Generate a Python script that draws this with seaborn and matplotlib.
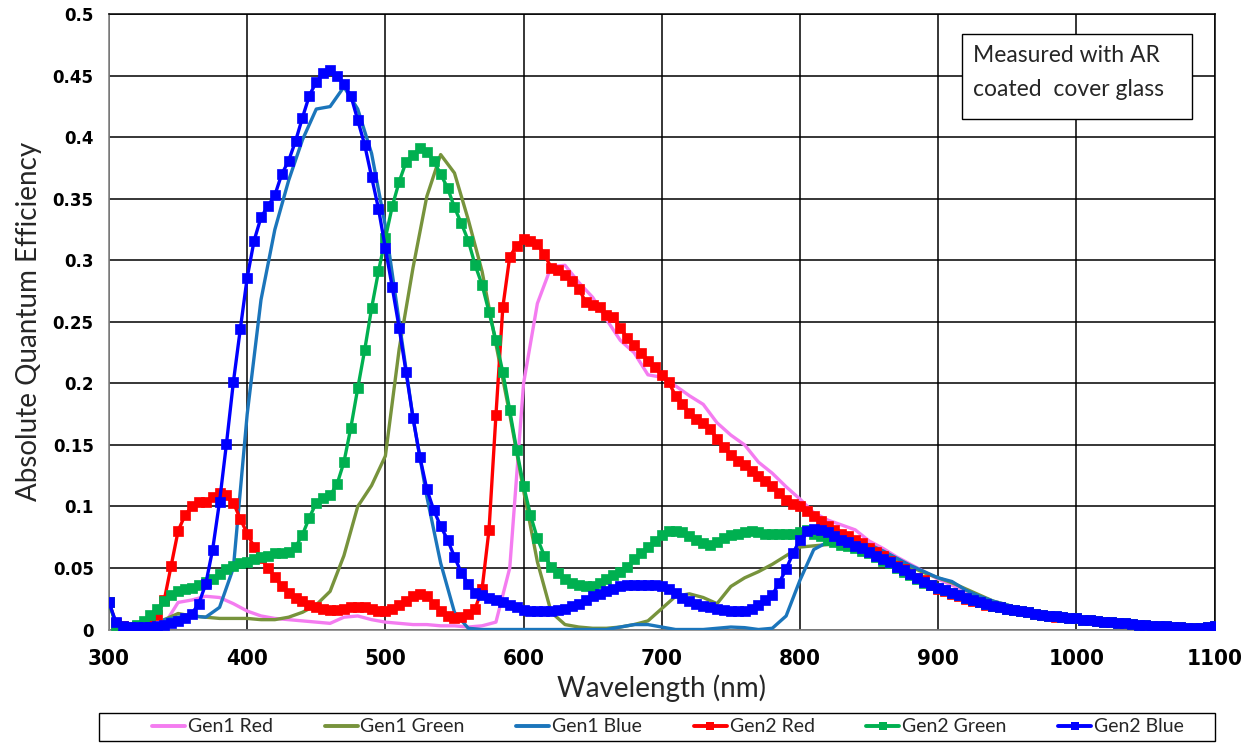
import numpy as np
import pandas as pd
import matplotlib
matplotlib.use("Agg")
import matplotlib.pyplot as plt
from matplotlib.patches import Rectangle
from matplotlib.lines import Line2D
import seaborn as sns

# ---------------- data ----------------
gen2_wl = list(range(300, 1101, 5))
gen1_wl = list(range(340, 1101, 10))

gen2_blue = [
    0.022, 0.006, 0.003, 0.002, 0.002, 0.002, 0.002, 0.003, 0.004, 0.005,
    0.007, 0.009, 0.013, 0.021, 0.037, 0.065, 0.104, 0.151, 0.201, 0.244,
    0.286, 0.316, 0.335, 0.344, 0.353, 0.370, 0.381, 0.397, 0.416, 0.434,
    0.445, 0.452, 0.455, 0.450, 0.443, 0.434, 0.414, 0.394, 0.368, 0.342,
    0.310, 0.278, 0.245, 0.209, 0.172, 0.140, 0.114, 0.097, 0.084, 0.073,
    0.059, 0.046, 0.037, 0.030, 0.028, 0.026, 0.024, 0.022, 0.020, 0.018,
    0.016, 0.015, 0.015, 0.015, 0.015, 0.016, 0.017, 0.019, 0.021, 0.024,
    0.027, 0.029, 0.031, 0.033, 0.035, 0.036, 0.036, 0.036, 0.036, 0.036,
    0.035, 0.033, 0.030, 0.026, 0.023, 0.021, 0.019, 0.018, 0.017, 0.016,
    0.015, 0.015, 0.015, 0.017, 0.020, 0.024, 0.028, 0.038, 0.049, 0.062,
    0.073, 0.080, 0.082, 0.081, 0.079, 0.076, 0.073, 0.071, 0.068, 0.066,
    0.063, 0.060, 0.057, 0.055, 0.051, 0.048, 0.045, 0.042, 0.039, 0.036,
    0.034, 0.032, 0.030, 0.028, 0.026, 0.024, 0.022, 0.021, 0.019, 0.018,
    0.017, 0.016, 0.015, 0.014, 0.013, 0.012, 0.011, 0.011, 0.010, 0.0095,
    0.009, 0.008, 0.0075, 0.007, 0.0065, 0.006, 0.0055, 0.005, 0.0045, 0.004,
    0.0035, 0.003, 0.0028, 0.0025, 0.002, 0.0018, 0.0015, 0.0012, 0.0015, 0.002,
    0.003,
]

gen2_red = [
    0.022, 0.005, 0.003, 0.002, 0.003, 0.004, 0.006, 0.012, 0.024, 0.052,
    0.080, 0.093, 0.100, 0.104, 0.104, 0.108, 0.111, 0.109, 0.103, 0.090,
    0.078, 0.067, 0.058, 0.050, 0.043, 0.035, 0.030, 0.026, 0.023, 0.020,
    0.018, 0.017, 0.016, 0.016, 0.017, 0.018, 0.018, 0.018, 0.017, 0.015,
    0.015, 0.017, 0.020, 0.023, 0.027, 0.029, 0.027, 0.021, 0.015, 0.011,
    0.009, 0.010, 0.013, 0.017, 0.033, 0.081, 0.174, 0.262, 0.303, 0.312,
    0.317, 0.316, 0.313, 0.305, 0.294, 0.292, 0.288, 0.283, 0.277, 0.266,
    0.264, 0.262, 0.256, 0.254, 0.245, 0.237, 0.231, 0.225, 0.218, 0.213,
    0.207, 0.201, 0.190, 0.183, 0.176, 0.171, 0.168, 0.163, 0.155, 0.148,
    0.142, 0.137, 0.134, 0.129, 0.125, 0.121, 0.117, 0.111, 0.105, 0.102,
    0.100, 0.096, 0.092, 0.088, 0.084, 0.081, 0.078, 0.076, 0.073, 0.070,
    0.066, 0.063, 0.060, 0.056, 0.052, 0.049, 0.045, 0.042, 0.040, 0.036,
    0.033, 0.031, 0.029, 0.027, 0.025, 0.023, 0.022, 0.020, 0.019, 0.018,
    0.017, 0.016, 0.015, 0.014, 0.013, 0.012, 0.011, 0.010, 0.010, 0.009,
    0.009, 0.008, 0.0075, 0.007, 0.0065, 0.006, 0.0055, 0.005, 0.0045, 0.004,
    0.0035, 0.003, 0.0028, 0.0025, 0.002, 0.0018, 0.0015, 0.0012, 0.0015, 0.002,
    0.003,
]

gen2_green = [
    0.022, 0.004, 0.002, 0.002, 0.004, 0.007, 0.012, 0.017, 0.023, 0.028,
    0.031, 0.033, 0.034, 0.036, 0.039, 0.041, 0.045, 0.049, 0.052, 0.054,
    0.055, 0.057, 0.059, 0.060, 0.062, 0.062, 0.063, 0.067, 0.077, 0.091,
    0.103, 0.107, 0.109, 0.118, 0.136, 0.164, 0.196, 0.227, 0.261, 0.291,
    0.318, 0.344, 0.364, 0.380, 0.386, 0.391, 0.388, 0.381, 0.370, 0.359,
    0.343, 0.330, 0.316, 0.296, 0.280, 0.258, 0.235, 0.209, 0.178, 0.146,
    0.117, 0.093, 0.074, 0.060, 0.051, 0.046, 0.041, 0.038, 0.036, 0.035,
    0.035, 0.038, 0.041, 0.044, 0.047, 0.051, 0.057, 0.062, 0.067, 0.072,
    0.077, 0.080, 0.080, 0.079, 0.076, 0.073, 0.070, 0.069, 0.071, 0.074,
    0.077, 0.078, 0.079, 0.080, 0.079, 0.078, 0.078, 0.078, 0.078, 0.078,
    0.079, 0.081, 0.078, 0.076, 0.073, 0.071, 0.069, 0.068, 0.066, 0.064,
    0.062, 0.059, 0.056, 0.054, 0.050, 0.047, 0.044, 0.041, 0.038, 0.036,
    0.034, 0.032, 0.030, 0.028, 0.026, 0.024, 0.022, 0.021, 0.019, 0.018,
    0.017, 0.016, 0.015, 0.014, 0.013, 0.012, 0.011, 0.011, 0.010, 0.0095,
    0.009, 0.008, 0.0075, 0.007, 0.0065, 0.006, 0.0055, 0.005, 0.0045, 0.004,
    0.0035, 0.003, 0.0028, 0.0025, 0.002, 0.0018, 0.0015, 0.0012, 0.0015, 0.002,
    0.003,
]

gen1_red = [
    0.004, 0.022, 0.024, 0.027, 0.026, 0.021, 0.015, 0.011, 0.009, 0.008,
    0.007, 0.006, 0.005, 0.010, 0.011, 0.008, 0.006, 0.005, 0.004, 0.004,
    0.003, 0.003, 0.002, 0.003, 0.006, 0.050, 0.200, 0.265, 0.295, 0.296,
    0.282, 0.270, 0.252, 0.235, 0.225, 0.207, 0.205, 0.198, 0.190, 0.183,
    0.168, 0.158, 0.150, 0.136, 0.127, 0.116, 0.106, 0.095, 0.089, 0.085,
    0.081, 0.072, 0.066, 0.059, 0.053, 0.047, 0.041, 0.036, 0.031, 0.026,
    0.022, 0.019, 0.016, 0.014, 0.012, 0.010, 0.009, 0.008, 0.007, 0.006,
    0.005, 0.004, 0.003, 0.002, 0.002, 0.002, 0.003,
]

gen1_green = [
    0.008, 0.013, 0.011, 0.010, 0.009, 0.009, 0.009, 0.008, 0.008, 0.010,
    0.014, 0.020, 0.031, 0.060, 0.100, 0.117, 0.141, 0.228, 0.294, 0.352,
    0.386, 0.371, 0.333, 0.291, 0.232, 0.175, 0.113, 0.055, 0.014, 0.004,
    0.002, 0.001, 0.001, 0.002, 0.004, 0.007, 0.017, 0.027, 0.029, 0.026,
    0.021, 0.035, 0.042, 0.047, 0.053, 0.060, 0.067, 0.068, 0.069, 0.069,
    0.068, 0.066, 0.061, 0.056, 0.051, 0.046, 0.042, 0.038, 0.033, 0.028,
    0.023, 0.020, 0.016, 0.014, 0.012, 0.010, 0.009, 0.008, 0.007, 0.006,
    0.005, 0.004, 0.003, 0.002, 0.002, 0.002, 0.003,
]

gen1_blue = [
    0.008, 0.010, 0.011, 0.010, 0.018, 0.050, 0.175, 0.268, 0.325, 0.365,
    0.398, 0.423, 0.425, 0.441, 0.423, 0.387, 0.328, 0.250, 0.172, 0.108,
    0.054, 0.014, 0.001, 0.000, 0.000, 0.000, 0.000, 0.000, 0.000, 0.000,
    0.000, 0.000, 0.000, 0.002, 0.004, 0.004, 0.002, 0.000, 0.000, 0.000,
    0.001, 0.002, 0.0015, 0.000, 0.001, 0.011, 0.040, 0.065, 0.071, 0.072,
    0.072, 0.069, 0.064, 0.058, 0.052, 0.047, 0.042, 0.039, 0.032, 0.027,
    0.023, 0.020, 0.016, 0.014, 0.012, 0.010, 0.009, 0.008, 0.007, 0.006,
    0.005, 0.004, 0.003, 0.002, 0.002, 0.002, 0.003,
]

series_names = ["Gen1 Red", "Gen1 Green", "Gen1 Blue", "Gen2 Red", "Gen2 Green", "Gen2 Blue"]
x_ticks = [300, 400, 500, 600, 700, 800, 900, 1000, 1100]
x_tick_labels = ["300", "400", "500", "600", "700", "800", "900", "1000", "1100"]
y_ticks = [0, 0.05, 0.1, 0.15, 0.2, 0.25, 0.3, 0.35, 0.4, 0.45, 0.5]
y_tick_labels = ["0", "0.05", "0.1", "0.15", "0.2", "0.25", "0.3", "0.35", "0.4", "0.45", "0.5"]
note_lines = ["Measured with AR", "coated  cover glass"]

# ---------------- style ----------------
sns.set_theme(style="white")
plt.rcParams["font.family"] = ["Lato", "DejaVu Sans"]

colors = ["#F47CF0", "#77933C", "#1B75BB", "#FF0000", "#00B050", "#0000FF"]

fig = plt.figure(figsize=(12.48, 7.53), dpi=100)
ax = fig.add_axes([0.08734, 0.16401, 0.88582, 0.8170])

datasets = [
    (gen1_wl, gen1_red), (gen1_wl, gen1_green), (gen1_wl, gen1_blue),
    (gen2_wl, gen2_red), (gen2_wl, gen2_green), (gen2_wl, gen2_blue),
]

handles = []
for i, ((xw, yv), name, col) in enumerate(zip(datasets, series_names, colors)):
    is_gen2 = i >= 3
    kw = {}
    if is_gen2:
        kw = dict(marker="s", markersize=7.0, markeredgecolor=col,
                  markeredgewidth=0.5, markerfacecolor=col)
    df = pd.DataFrame({"wl": xw, "qe": yv})
    sns.lineplot(data=df, x="wl", y="qe", ax=ax, color=col, linewidth=2.4,
                 legend=False, zorder=3 + i, **kw)
    handles.append(Line2D([], [], color=col, lw=2.8,
                          marker="s" if is_gen2 else None, markersize=6,
                          markeredgewidth=0))

ax.set_xlim(300, 1100)
ax.set_ylim(0, 0.5)
ax.set_xticks(x_ticks)
ax.set_xticklabels(x_tick_labels, fontfamily="DejaVu Sans",
                   fontstretch="condensed", fontweight="bold", fontsize=16)
ax.set_xticks(np.arange(300, 1101, 20), minor=True)
ax.set_yticks(y_ticks)
ax.set_yticklabels(y_tick_labels, fontfamily="DejaVu Sans", fontweight="bold",
                   fontsize=12)
ax.set_yticks(np.arange(0, 0.5001, 0.01), minor=True)
ax.tick_params(which="both", direction="out", color="#868686", length=6,
               width=1, labelcolor="black")
ax.tick_params(axis="x", which="major", pad=8)
ax.tick_params(axis="y", which="major", pad=5)
ax.grid(True, which="major", color="black", linewidth=1.1)
ax.set_axisbelow(True)
for s in ["left", "bottom"]:
    ax.spines[s].set_color("#868686")
    ax.spines[s].set_linewidth(1.2)
for s in ["top", "right"]:
    ax.spines[s].set_color("black")
    ax.spines[s].set_linewidth(1.1)

ax.set_xlabel("Wavelength (nm)", fontsize=20, labelpad=4)
ax.set_ylabel("Absolute Quantum Efficiency", fontsize=20, labelpad=8)

# note box
W, H = 1248.0, 753.0
note_rect = Rectangle((962 / W, 1 - 119 / H), 230 / W, 85 / H,
                      transform=fig.transFigure, facecolor="white",
                      edgecolor="black", linewidth=1.0, zorder=20)
ax.add_patch(note_rect)
ax.text(973 / W, 1 - 56 / H, note_lines[0], transform=fig.transFigure,
        fontsize=16.5, va="center", ha="left", zorder=21)
ax.text(973 / W, 1 - 89 / H, note_lines[1], transform=fig.transFigure,
        fontsize=16.5, va="center", ha="left", zorder=21)

# legend box
leg_rect = Rectangle((99 / W, 1 - 741 / H), 1116 / W, 28 / H,
                     transform=fig.transFigure, facecolor="white",
                     edgecolor="black", linewidth=1.0)
fig.patches.append(leg_rect)
fig.legend(handles, series_names, loc="center",
           bbox_to_anchor=(668 / W, 1 - 727 / H), ncol=6, frameon=False,
           fontsize=14, handlelength=1.7, handletextpad=0.15,
           columnspacing=2.65)

fig.savefig("out.png", dpi=100)
